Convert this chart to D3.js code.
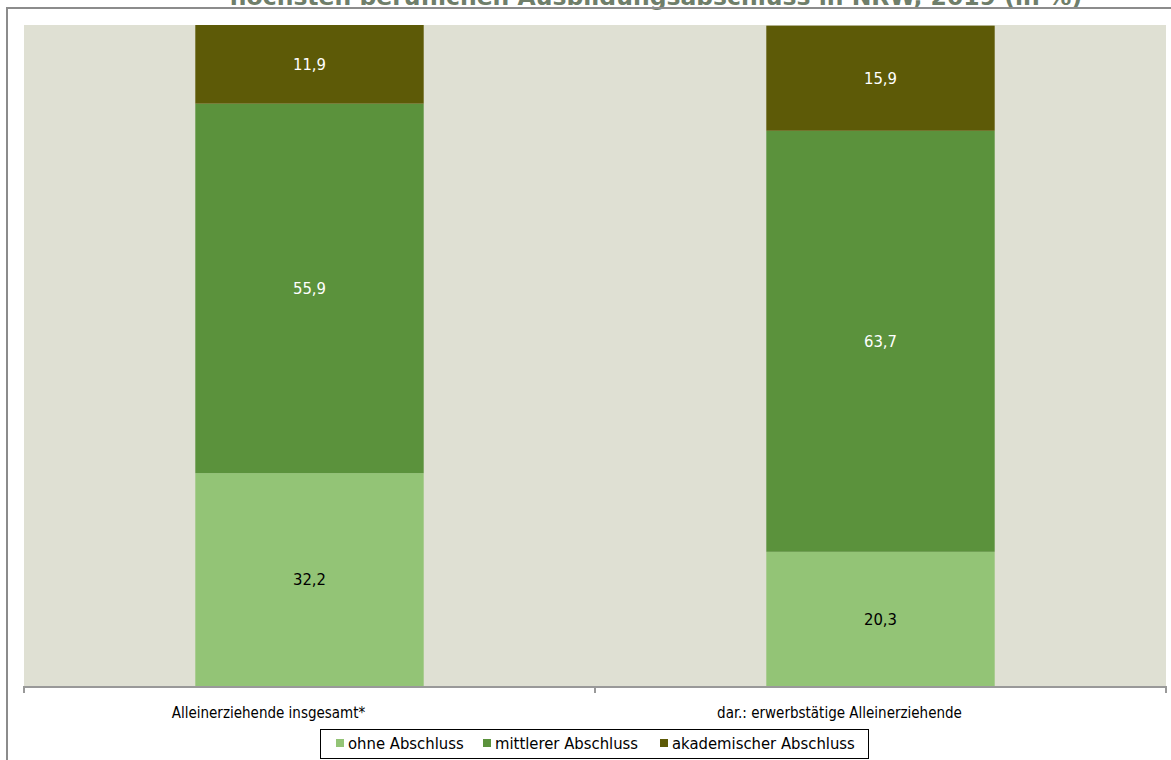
<!DOCTYPE html>
<html>
<head>
<meta charset="utf-8">
<script src="https://cdn.jsdelivr.net/npm/d3@7"></script>
<style>
  body { margin: 0; background: #fff; }
  svg { display: block; }
  text { font-family: "DejaVu Sans Condensed", "DejaVu Sans", sans-serif; }
</style>
</head>
<body>
<div id="chart"></div>
<script>
// data
var categories = ["Alleinerziehende insgesamt*", "dar.: erwerbstätige Alleinerziehende"];
var seriesNames = ["ohne Abschluss", "mittlerer Abschluss", "akademischer Abschluss"];
var ohne = [32.2, 20.3];
var mittlerer = [55.9, 63.7];
var akademisch = [11.9, 15.9];
var title = "höchsten beruflichen Ausbildungsabschluss in NRW, 2019 (in %)";

var w = 1171, h = 760;
var colors = ["#93c476", "#5b923c", "#5d5a07"];
var labelColors = ["#000", "#fff", "#fff"];

var svg = d3.select("#chart").append("svg")
  .attr("width", w)
  .attr("height", h);

// title, mostly cut off at top like the original
svg.append("text")
  .attr("x", 656)
  .attr("y", 5)
  .attr("text-anchor", "middle")
  .attr("font-size", 23.5)
  .attr("font-weight", "bold")
  .style("font-family", "'DejaVu Sans', sans-serif")
  .attr("fill", "#6f7e6a")
  .text(title);

// outer chart border (continues past the window)
svg.append("rect")
  .attr("x", 7)
  .attr("y", 8)
  .attr("width", w + 20)
  .attr("height", h + 20)
  .attr("fill", "none")
  .attr("stroke", "#8c8c8c")
  .attr("stroke-width", 2);

var plot = { left: 24, right: 1166, top: 25, bottom: 686 };

svg.append("rect")
  .attr("x", plot.left)
  .attr("y", plot.top)
  .attr("width", plot.right - plot.left)
  .attr("height", plot.bottom - plot.top)
  .attr("fill", "#dfe0d3");

var x = d3.scaleBand()
  .domain(categories)
  .range([plot.left, plot.right])
  .paddingInner(0.6)
  .paddingOuter(0.3);

var y = d3.scaleLinear()
  .domain([0, 100])
  .range([plot.bottom, plot.top]);

var table = categories.map(function (c, i) {
  return { cat: c, s0: ohne[i], s1: mittlerer[i], s2: akademisch[i] };
});
var stack = d3.stack().keys(["s0", "s1", "s2"]);
var layers = stack(table);

var groups = svg.selectAll("g.layer")
  .data(layers)
  .enter()
  .append("g")
  .attr("class", "layer")
  .attr("fill", function (d, i) { return colors[i]; });

groups.selectAll("rect")
  .data(function (d) { return d; })
  .enter()
  .append("rect")
  .attr("x", function (d) { return x(d.data.cat); })
  .attr("width", x.bandwidth())
  .attr("y", function (d) { return y(d[1]); })
  .attr("height", function (d) { return y(d[0]) - y(d[1]); });

groups.selectAll("text")
  .data(function (d) { return d; })
  .enter()
  .append("text")
  .attr("x", function (d) { return x(d.data.cat) + x.bandwidth() / 2; })
  .attr("y", function (d) { return (y(d[0]) + y(d[1])) / 2; })
  .attr("dy", "0.35em")
  .attr("text-anchor", "middle")
  .attr("font-size", 16.5)
  .attr("fill", function () {
    return labelColors[layers.indexOf(d3.select(this.parentNode).datum())];
  })
  .text(function (d) { return d3.format(".1f")(d[1] - d[0]).replace(".", ","); });

// x axis
var axis = svg.append("g");
axis.append("line")
  .attr("x1", plot.left).attr("x2", plot.right)
  .attr("y1", plot.bottom + 1).attr("y2", plot.bottom + 1)
  .attr("stroke", "#999").attr("stroke-width", 2);
var tickPos = [plot.left, (plot.left + plot.right) / 2, plot.right];
axis.selectAll("line.tick")
  .data(tickPos)
  .enter()
  .append("line")
  .attr("class", "tick")
  .attr("x1", function (d) { return d; })
  .attr("x2", function (d) { return d; })
  .attr("y1", plot.bottom)
  .attr("y2", plot.bottom + 7)
  .attr("stroke", "#999")
  .attr("stroke-width", 2);
// category labels sit a bit left of the bar centres in the original
axis.selectAll("text")
  .data(categories)
  .enter()
  .append("text")
  .attr("x", function (d) { return x(d) + x.bandwidth() / 2 - 41; })
  .attr("y", 718)
  .attr("text-anchor", "middle")
  .attr("font-size", 15)
  .attr("fill", "#000")
  .text(function (d) { return d; });

// legend
var legend = svg.append("g");
legend.append("rect")
  .attr("x", 320.5).attr("y", 729.5)
  .attr("width", 548).attr("height", 29)
  .attr("fill", "#fff").attr("stroke", "#000").attr("stroke-width", 1);
var legX = [336, 483, 660];
var items = legend.selectAll("g.item")
  .data(seriesNames)
  .enter()
  .append("g")
  .attr("class", "item")
  .attr("transform", function (d, i) { return "translate(" + legX[i] + ",739)"; });
items.append("rect")
  .attr("width", 8).attr("height", 8)
  .attr("fill", function (d, i) { return colors[i]; });
items.append("text")
  .attr("x", 12)
  .attr("y", 10)
  .attr("font-size", 16.5)
  .attr("fill", "#000")
  .text(function (d) { return d; });
</script>
</body>
</html>
